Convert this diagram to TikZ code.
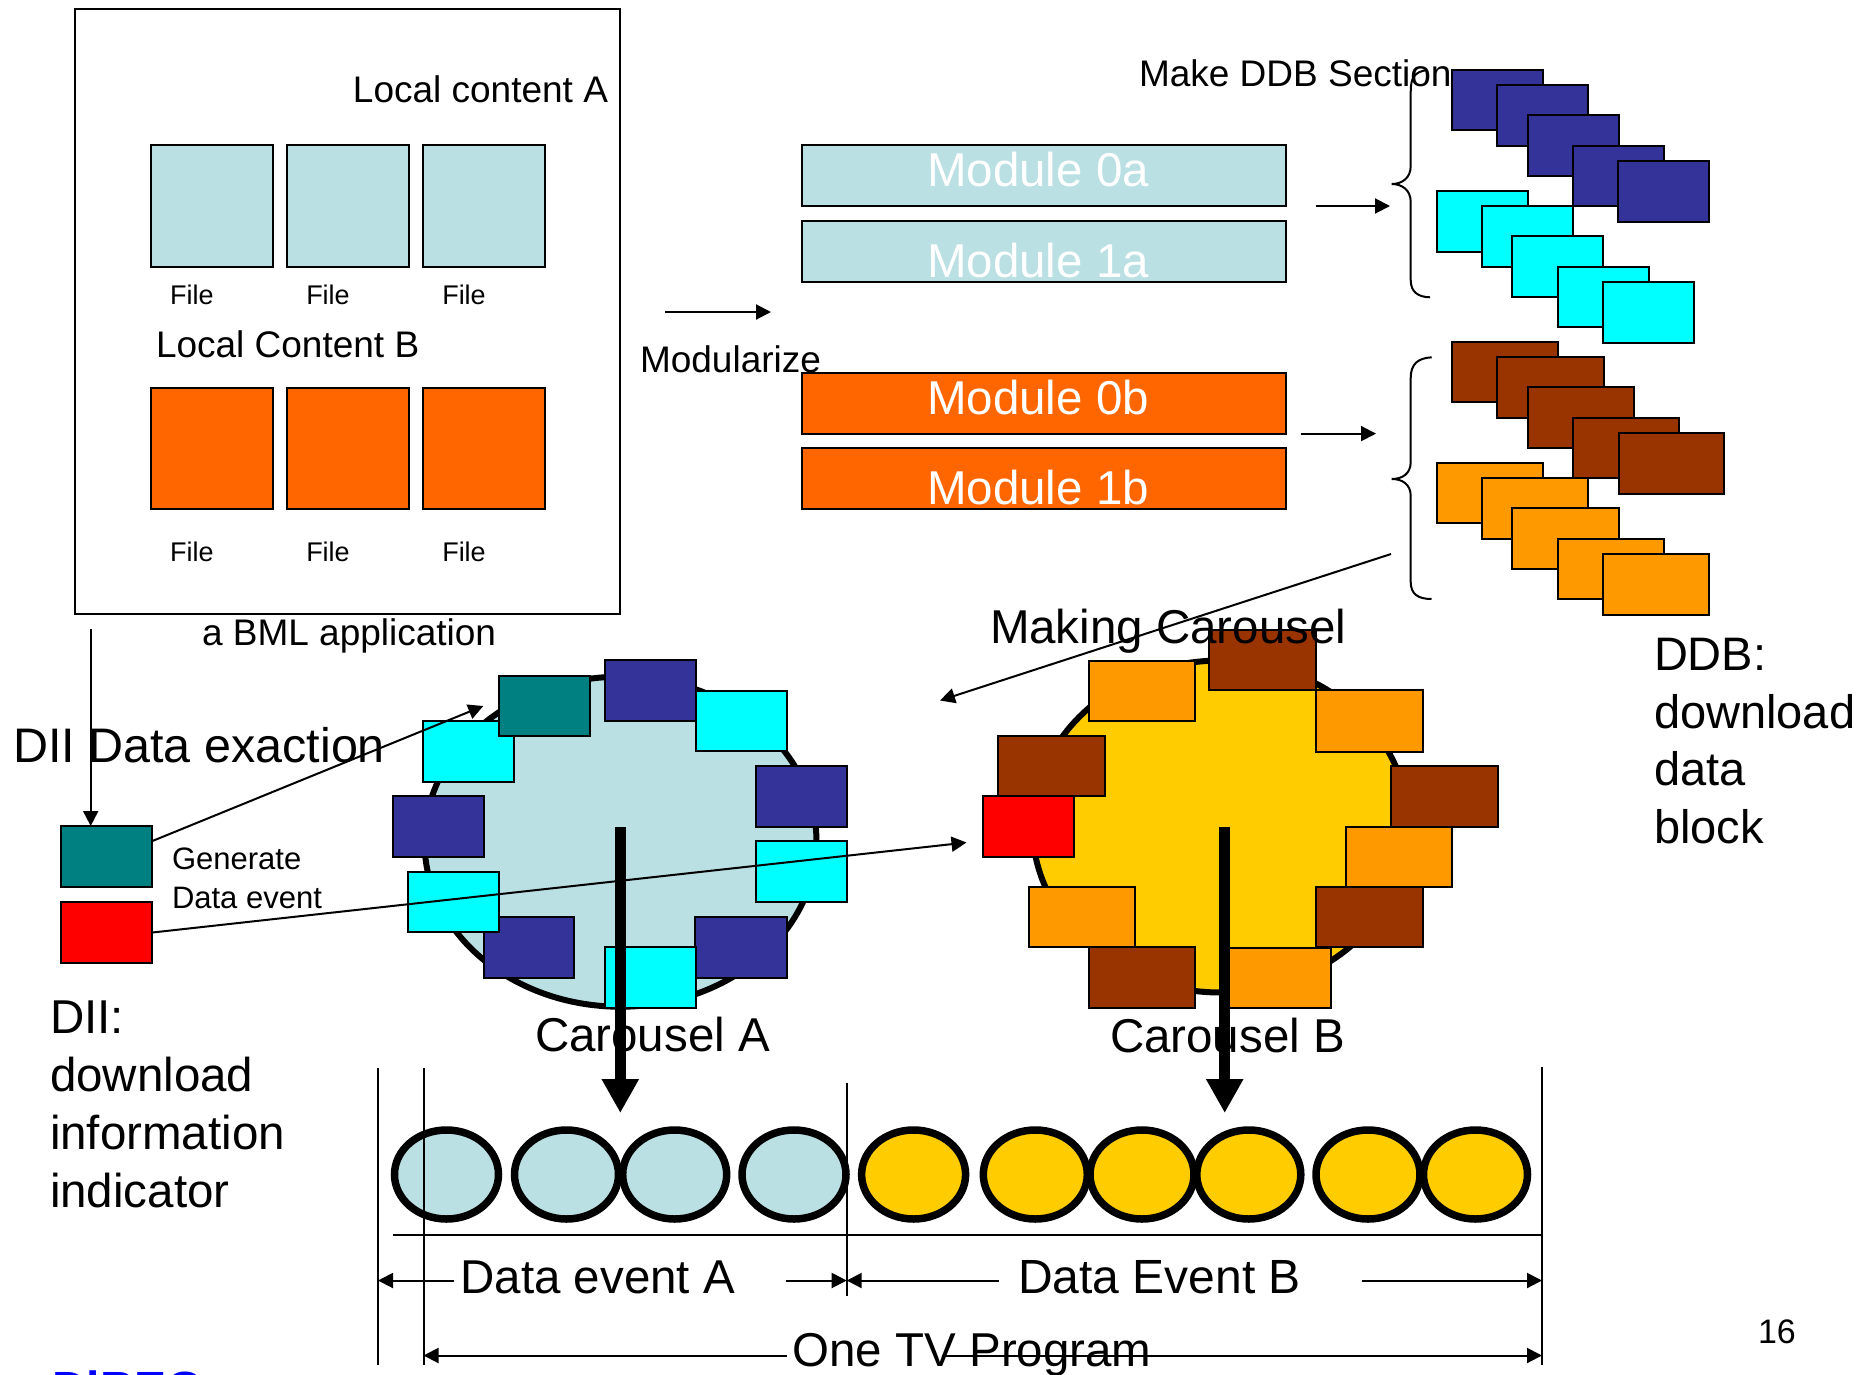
\documentclass[tikz,border=0pt]{standalone}
\usepackage{fontspec}
\setmainfont{Liberation Sans}
\usetikzlibrary{arrows.meta,fit,shapes.geometric}
\definecolor{lblue}{HTML}{BAE0E3}
\definecolor{orng}{HTML}{FF6600}
\definecolor{navy}{HTML}{333399}
\definecolor{cyn}{HTML}{00FFFF}
\definecolor{brwn}{HTML}{993300}
\definecolor{lorng}{HTML}{FF9900}
\definecolor{tealc}{HTML}{008080}
\definecolor{redc}{HTML}{FF0000}
\definecolor{yel}{HTML}{FFCC00}
\definecolor{bluec}{HTML}{0000FF}
\newcommand{\fsz}[1]{\fontsize{#1pt}{#1pt}\selectfont}
\newcommand{\mybox}[6]{\node[blk,fill=#2,fit={(#3,#4)(#5,#6)}] (#1) {};}
\begin{document}
\begin{tikzpicture}[x=1pt,y=-1pt,
  blk/.style={draw=black,line width=2pt,inner sep=0pt,outer sep=0pt},
  txt/.style={inner sep=0pt,outer sep=0pt,anchor=base west,text=black},
  thinln/.style={line width=2pt},
  arr/.style={line width=2pt,-{Triangle[length=15pt,width=15pt]}},
  bigarr/.style={line width=11pt,-{Triangle[length=34pt,width=35pt]}},
  ring/.style={ellipse,draw=black,line width=6pt,inner sep=0pt,outer sep=0pt},
  ringsm/.style={ellipse,draw=black,line width=7.5pt,inner sep=0pt,outer sep=0pt,minimum width=104pt,minimum height=89pt},
  bracepath/.style={line width=2pt}
]
\useasboundingbox (0,0) rectangle (1860,1374);
\clip (0,0) rectangle (1860,1374);

% ---------- BML application box ----------
\node[blk,fill=none,fit={(75,9)(620,614)}] (bml) {};
\node[txt,anchor=base east] (lca) at (608,102) {\fsz{37}Local content A};
\mybox{fa1}{lblue}{151}{145.4}{273}{266.8}
\mybox{fa2}{lblue}{287}{145.4}{409}{266.8}
\mybox{fa3}{lblue}{423}{145.4}{545}{266.8}
\node[txt,anchor=base] (lfa1) at (192,304) {\fsz{27}File};
\node[txt,anchor=base] (lfa2) at (328,304) {\fsz{27}File};
\node[txt,anchor=base] (lfa3) at (464,304) {\fsz{27}File};
\node[txt] (lcb) at (156,357) {\fsz{37}Local Content B};
\mybox{fb1}{orng}{151}{387.6}{273}{509}
\mybox{fb2}{orng}{287}{387.6}{409}{509}
\mybox{fb3}{orng}{423}{387.6}{545}{509}
\node[txt,anchor=base] (lfb1) at (192,561) {\fsz{27}File};
\node[txt,anchor=base] (lfb2) at (328,561) {\fsz{27}File};
\node[txt,anchor=base] (lfb3) at (464,561) {\fsz{27}File};
\node[txt] (bmltxt) at (202,645) {\fsz{37}a BML application};

% ---------- Modularize ----------
\coordinate (modS) at (665,312);
\coordinate (modE) at (771,312);
\draw[arr] (modS) -- (modE);
\node[txt] (modtxt) at (640,372) {\fsz{37}Modularize};

\mybox{m0a}{lblue}{802}{145.4}{1286}{205.9}
\mybox{m1a}{lblue}{802}{221}{1286}{281.6}
\mybox{m0b}{orng}{802}{372.7}{1286}{433.6}
\mybox{m1b}{orng}{802}{448}{1286}{509}
\node[txt,anchor=base,text=white] (t0a) at (1038,186) {\fsz{47.5}Module 0a};
\node[txt,anchor=base,text=white] (t1a) at (1038,277) {\fsz{47.5}Module 1a};
\node[txt,anchor=base,text=white] (t0b) at (1038,414) {\fsz{47.5}Module 0b};
\node[txt,anchor=base,text=white] (t1b) at (1038,504) {\fsz{47.5}Module 1b};

% ---------- DDB sections ----------
\node[txt] (mkddb) at (1139,86) {\fsz{37}Make DDB Section};
\coordinate (a1S) at (1315.5,206);
\coordinate (a1E) at (1390,206);
\draw[arr] (a1S) -- (a1E);
\coordinate (a2S) at (1300.7,433.6);
\coordinate (a2E) at (1376,433.6);
\draw[arr] (a2S) -- (a2E);

\draw[bracepath] (1427,70) .. controls (1414,72) and (1410.7,78) .. (1410.7,92)
  -- (1410.7,166) .. controls (1410.7,178) and (1402,184) .. (1391.7,184)
  .. controls (1402,184) and (1410.7,190) .. (1410.7,202)
  -- (1410.7,280) .. controls (1410.7,292) and (1418,297) .. (1430,297.3);
\draw[bracepath] (1431.7,357.3) .. controls (1418,358) and (1410.7,364) .. (1410.7,378)
  -- (1410.7,462) .. controls (1410.7,474) and (1402,479) .. (1391.7,479)
  .. controls (1402,479) and (1410.7,484) .. (1410.7,496)
  -- (1410.7,582) .. controls (1410.7,594) and (1418,599) .. (1431.5,599);

\mybox{dn1}{navy}{1452}{70}{1543}{130.3}
\mybox{dn2}{navy}{1497}{85}{1588.3}{146}
\mybox{dn3}{navy}{1527.7}{115.3}{1618.7}{176}
\mybox{dn4}{navy}{1572.7}{146}{1664}{206}
\mybox{dn5}{navy}{1618.3}{160.7}{1709.3}{221.7}
\mybox{dc1}{cyn}{1436.7}{191}{1527.7}{251.7}
\mybox{dc2}{cyn}{1482}{206}{1572.7}{267}
\mybox{dc3}{cyn}{1512.3}{236.3}{1603.3}{297}
\mybox{dc4}{cyn}{1557.7}{266.7}{1648.7}{327.3}
\mybox{dc5}{cyn}{1603}{281.7}{1694}{342.7}
\mybox{db1}{brwn}{1452}{341.7}{1558.3}{402.3}
\mybox{db2}{brwn}{1497.3}{357.3}{1603.7}{418.3}
\mybox{db3}{brwn}{1527.7}{387.3}{1634}{448}
\mybox{db4}{brwn}{1573.3}{417.7}{1679.3}{478.3}
\mybox{db5}{brwn}{1618.7}{432.7}{1724.3}{493.6}
\mybox{do1}{lorng}{1436.7}{462.7}{1543}{523.3}
\mybox{do2}{lorng}{1482}{478.3}{1588.3}{539}
\mybox{do3}{lorng}{1512.3}{508}{1618.7}{569}
\mybox{do4}{lorng}{1557.7}{538.7}{1664}{599.3}
\mybox{do5}{lorng}{1603}{553.7}{1709.3}{614.5}

\node[txt] (ddb1) at (1654,670) {\fsz{47}DDB:};
\node[txt] (ddb2) at (1654,728) {\fsz{47}download};
\node[txt] (ddb3) at (1654,785.5) {\fsz{47}data};
\node[txt] (ddb4) at (1654,843.5) {\fsz{47}block};

% ---------- Carousel A ----------
\node[ring,fill=lblue,minimum width=392pt,minimum height=330pt] (carA) at (620.5,841.7) {};
\mybox{aCul}{cyn}{423.3}{720.7}{514.3}{781.7}
\mybox{aTeal}{tealc}{499}{675.7}{590}{736}
\mybox{aNt}{navy}{605}{660}{696}{720.7}
\mybox{aCtr}{cyn}{696}{690.7}{786.7}{750.7}
\mybox{aNl}{navy}{392.7}{796}{484.3}{856.7}
\mybox{aNr}{navy}{755.7}{765.7}{847.3}{826.7}
\mybox{aCr}{cyn}{755.7}{841}{847.3}{902}
\mybox{aNbl}{navy}{483.7}{916.7}{574.3}{977.7}
\mybox{aCl}{cyn}{407.7}{871.7}{498.7}{932.3}
\mybox{aNbr}{navy}{695}{916.7}{786.7}{977.7}
\mybox{aCb}{cyn}{605}{947.3}{695.7}{1007.7}

% ---------- Carousel B ----------
\node[ring,fill=yel,minimum width=376pt,minimum height=332pt] (carB) at (1220.5,826.5) {};
\mybox{bOtl}{lorng}{1088.6}{660.7}{1195}{721.4}
\mybox{bBt}{brwn}{1209.3}{630.4}{1316}{690.4}
\mybox{bOtr}{lorng}{1316}{690.4}{1422.5}{751.8}
\mybox{bBl}{brwn}{998}{735.7}{1104.6}{796.4}
\mybox{bRed}{redc}{983.2}{796.4}{1074.3}{857}
\mybox{bBr}{brwn}{1391.4}{766}{1497.5}{826.8}
\mybox{bOr}{lorng}{1345.7}{826.8}{1452}{887}
\mybox{bBrl}{brwn}{1316}{887}{1422.5}{947}
\mybox{bOll}{lorng}{1028.6}{887}{1135}{947}
\mybox{bBb}{brwn}{1088.6}{947}{1195}{1007.9}
\mybox{bOb}{lorng}{1225}{948}{1331.4}{1008}

\node[txt] (mkcar) at (990,643) {\fsz{47.5}Making Carousel};

% ---------- DII ----------
\coordinate (vS) at (90.7,629);
\mybox{dTeal}{tealc}{60.5}{826}{152.4}{887}
\mybox{dRed}{redc}{60.5}{902}{152.4}{963}
\draw[arr] (vS) -- (vS |- dTeal.north);
\node[txt] (diiex) at (13,762) {\fsz{48.5}DII Data exaction};
\node[txt] (gen1) at (172,869) {\fsz{31}Generate};
\node[txt] (gen2) at (172,908) {\fsz{31}Data event};
\node[txt] (dii1) at (50,1033) {\fsz{47.5}DII:};
\node[txt] (dii2) at (50,1091.6) {\fsz{47.5}download};
\node[txt] (dii3) at (50,1149) {\fsz{47.5}information};
\node[txt] (dii4) at (50,1207) {\fsz{47.5}indicator};

\coordinate (tealS) at (152.4,841);
\coordinate (tealE) at (483.3,706);
\draw[arr] (tealS) -- (tealE);
\coordinate (redS) at (152.4,932.5);
\coordinate (redE) at (966.5,842.5);
\draw[arr] (redS) -- (redE);
\coordinate (mcS) at (1391,554);
\coordinate (mcE) at (940,700.5);
\draw[arr] (mcS) -- (mcE);

\node[txt] (carAt) at (535,1051.5) {\fsz{47.5}Carousel A};
\node[txt] (carBt) at (1110,1052) {\fsz{47.5}Carousel B};

% ---------- timeline ----------
\node[ringsm,fill=lblue] (c1) at (446.5,1174.5) {};
\node[ringsm,fill=lblue] (c2) at (566.5,1174.5) {};
\node[ringsm,fill=lblue] (c3) at (674.7,1174.5) {};
\node[ringsm,fill=lblue] (c4) at (794,1174.5) {};
\node[ringsm,fill=yel] (c5) at (913.6,1174.5) {};
\node[ringsm,fill=yel] (c6) at (1035.3,1174.5) {};
\node[ringsm,fill=yel] (c7) at (1142,1174.5) {};
\node[ringsm,fill=yel] (c8) at (1248.8,1174.5) {};
\node[ringsm,fill=yel] (c9) at (1368,1174.5) {};
\node[ringsm,fill=yel] (c10) at (1475.5,1174.5) {};

\coordinate (v1t) at (378,1068); \coordinate (v1b) at (378,1365);
\coordinate (v2t) at (423.5,1068); \coordinate (v2b) at (423.5,1365);
\coordinate (v3t) at (846.7,1082.5); \coordinate (v3b) at (846.7,1295.7);
\coordinate (v4t) at (1542,1067); \coordinate (v4b) at (1542,1365);
\draw[thinln] (v1t) -- (v1b);
\draw[thinln] (v2t) -- (v2b);
\draw[thinln] (v3t) -- (v3b);
\draw[thinln] (v4t) -- (v4b);
\coordinate (hS) at (393,1235);
\draw[thinln] (hS) -- (hS -| v4t);

\node[txt] (dea) at (460.5,1293.5) {\fsz{47.5}Data event A};
\node[txt] (deb) at (1018,1293.5) {\fsz{48}Data Event B};
\node[txt] (otv) at (792.5,1366) {\fsz{47.5}One TV Program};

\coordinate (deaL) at (454,1280.5);
\coordinate (deaR) at (786,1280.5);
\coordinate (debL) at (998.6,1280.5);
\coordinate (debR) at (1361.5,1280.5);
\draw[arr] (deaL) -- (deaL -| v1t);
\draw[arr] (deaR) -- (deaR -| v3t);
\draw[arr] (debL) -- (debL -| v3t);
\draw[arr] (debR) -- (debR -| v4t);
\coordinate (otvL) at (786.7,1355.5);
\coordinate (otvR) at (942,1355.5);
\draw[arr] (otvL) -- (otvL -| v2t);
\draw[arr] (otvR) -- (otvR -| v4t);

\node[txt] (pg) at (1758,1343) {\fsz{34}16};
\node[txt,text=bluec] (dibeg) at (52,1405) {\fsz{48}\bfseries DiBEG};

% ---------- thick arrows ----------
\coordinate (bigAs) at (620.3,827);
\coordinate (bigAe) at (620.3,1113);
\draw[bigarr] (bigAs) -- (bigAe);
\coordinate (bigBs) at (1224.7,827);
\coordinate (bigBe) at (1224.7,1113);
\draw[bigarr] (bigBs) -- (bigBe);
\end{tikzpicture}
\end{document}
